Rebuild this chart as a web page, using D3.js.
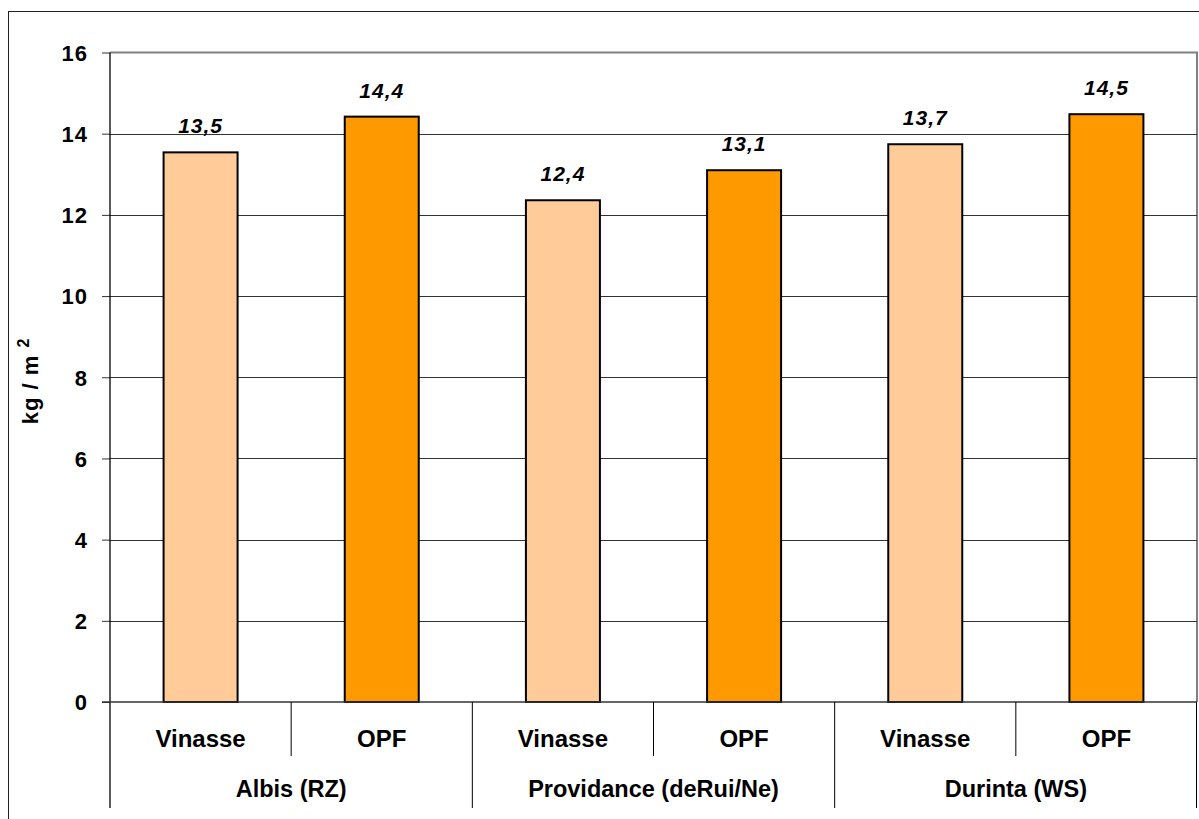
<!DOCTYPE html>
<html><head><meta charset="utf-8">
<script src="https://cdn.jsdelivr.net/npm/d3@7"></script>
<style>body{margin:0;background:#fff}svg{display:block}text{font-family:Arial,"Liberation Sans",sans-serif;font-weight:bold}</style>
</head><body><svg id="c" width="1199" height="819"></svg>
<script>
const groups = ["Albis (RZ)", "Providance (deRui/Ne)", "Durinta (WS)"];
const treatments = ["Vinasse", "OPF"];
const values = [13.54, 14.42, 12.36, 13.1, 13.74, 14.48];
const valueLabels = ["13,5", "14,4", "12,4", "13,1", "13,7", "14,5"];
const yTicks = [0, 2, 4, 6, 8, 10, 12, 14, 16];
const colors = {"Vinasse": "#FFCC99", "OPF": "#FF9900"};

const svg = d3.select("#c");
const L = 110, R = 1197, T = 52.5, B = 702;
const bars = [];
groups.forEach((g, gi) => treatments.forEach((t, ti) => bars.push({g, t, key: gi + "-" + ti, v: values[gi * 2 + ti], lab: valueLabels[gi * 2 + ti]})));

const x = d3.scaleBand().domain(bars.map(d => d.key)).range([L, R]).paddingInner(0).paddingOuter(0);
const xg = d3.scaleBand().domain(groups).range([L, R]);
const y = d3.scaleLinear().domain([0, 16]).range([B, T]);

// outer frame
svg.append("rect").attr("x", 8.5).attr("y", 11.5).attr("width", 1200).attr("height", 820).attr("fill", "none").attr("stroke", "#222").attr("stroke-width", 1);

// plot border
svg.append("path").attr("d", `M${L},${T}H${R}V${B}`).attr("fill", "none").attr("stroke", "#808080").attr("stroke-width", 2);

// gridlines
svg.append("g").selectAll("line").data(yTicks.filter(d => d > 0 && d < 16)).join("line")
  .attr("x1", L).attr("x2", R).attr("y1", d => Math.round(y(d)) + 0.5).attr("y2", d => Math.round(y(d)) + 0.5)
  .attr("stroke", "#333").attr("stroke-width", 1);

// y axis
const yAxis = d3.axisLeft(y).tickValues(yTicks).tickSize(8).tickPadding(14).tickFormat(d3.format("d"));
const ya = svg.append("g").attr("transform", `translate(${L},0)`).call(yAxis);
ya.select(".domain").remove();
ya.selectAll(".tick line").attr("stroke", "#333");
ya.selectAll(".tick text").attr("font-size", 22).attr("fill", "#000").attr("dy", "0.36em").attr("letter-spacing", 1);
svg.append("line").attr("x1", L).attr("x2", L).attr("y1", T).attr("y2", 808).attr("stroke", "#000").attr("stroke-width", 1.3);

// bars
const bw = 74;
svg.append("g").selectAll("rect").data(bars).join("rect")
  .attr("x", d => x(d.key) + x.bandwidth() / 2 - bw / 2).attr("width", bw)
  .attr("y", d => y(d.v)).attr("height", d => y(0) - y(d.v))
  .attr("fill", d => colors[d.t]).attr("stroke", "#000").attr("stroke-width", 2);

// value labels
svg.append("g").selectAll("text").data(bars).join("text")
  .attr("x", d => x(d.key) + x.bandwidth() / 2).attr("y", d => y(d.v) - 19)
  .attr("text-anchor", "middle").attr("font-size", 21).attr("letter-spacing", 1).attr("font-style", "italic").text(d => d.lab);

// zero line
svg.append("line").attr("x1", L - 8).attr("x2", R).attr("y1", B).attr("y2", B).attr("stroke", "#333").attr("stroke-width", 1.5);

// category separators
svg.append("g").selectAll("line").data(bars.filter((d, i) => i % 2 === 1)).join("line")
  .attr("x1", d => x(d.key)).attr("x2", d => x(d.key)).attr("y1", B).attr("y2", 756).attr("stroke", "#000");
svg.append("g").selectAll("line").data(groups.slice(1)).join("line")
  .attr("x1", d => xg(d)).attr("x2", d => xg(d)).attr("y1", B).attr("y2", 808).attr("stroke", "#000");
svg.append("line").attr("x1", R - 0.5).attr("x2", R - 0.5).attr("y1", B).attr("y2", 808).attr("stroke", "#000");

svg.append("g").selectAll("text").data(bars).join("text")
  .attr("x", d => x(d.key) + x.bandwidth() / 2).attr("y", 747).attr("text-anchor", "middle")
  .attr("font-size", 24).text(d => d.t);
svg.append("g").selectAll("text").data(groups).join("text")
  .attr("x", d => xg(d) + xg.bandwidth() / 2).attr("y", 797).attr("text-anchor", "middle")
  .attr("font-size", 23.5).text(d => d);

// y title
const yt = svg.append("text").attr("transform", "translate(38,381) rotate(-90)").attr("text-anchor", "middle").attr("font-size", 22).attr("letter-spacing", 1);
yt.append("tspan").text("kg / m ");
yt.append("tspan").attr("font-size", 16).attr("dy", "-0.55em").text("2");
</script></body></html>
